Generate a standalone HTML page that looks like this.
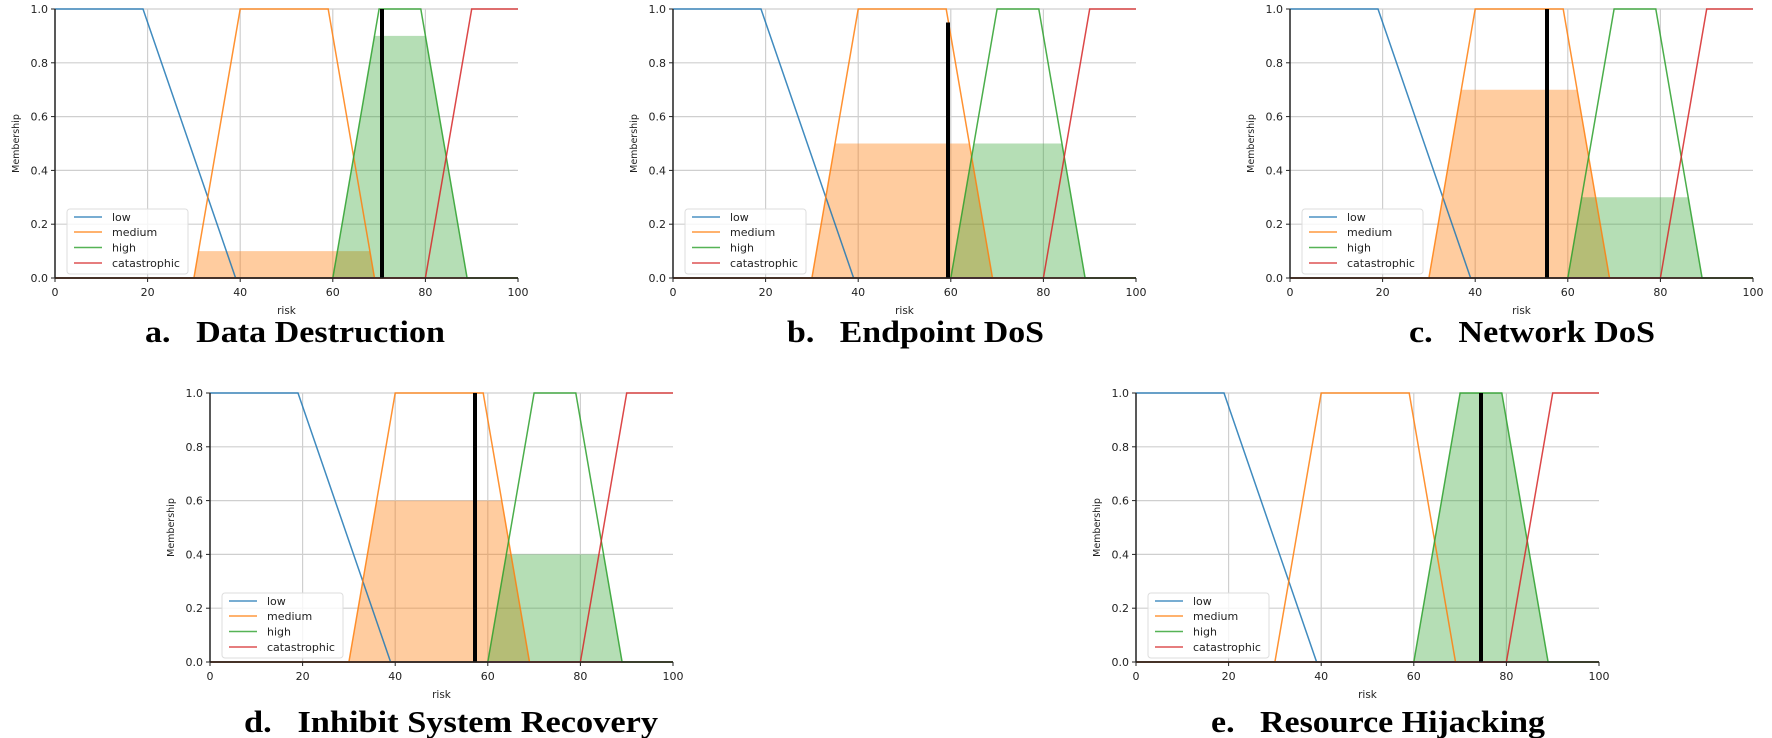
<!DOCTYPE html>
<html><head><meta charset="utf-8"><style>
html,body{margin:0;padding:0;background:#fff}
svg{display:block}
.t{font-family:"DejaVu Sans",sans-serif;font-size:11px;fill:#222}
.lg{font-family:"DejaVu Sans",sans-serif;font-size:11px;fill:#222}
.ti{font-family:"Liberation Serif",serif;font-weight:bold;font-size:31px;fill:#000;white-space:pre}
</style></head><body>
<svg width="1772" height="738" viewBox="0 0 1772 738" xmlns="http://www.w3.org/2000/svg">
<defs>
<g id="grid">
  <g stroke="#cfcfcf" stroke-width="1.2">
    <line x1="0" y1="0" x2="463" y2="0"/><line x1="0" y1="53.8" x2="463" y2="53.8"/>
    <line x1="0" y1="107.6" x2="463" y2="107.6"/><line x1="0" y1="161.4" x2="463" y2="161.4"/>
    <line x1="0" y1="215.2" x2="463" y2="215.2"/>
    <line x1="92.6" y1="0" x2="92.6" y2="269"/><line x1="185.2" y1="0" x2="185.2" y2="269"/>
    <line x1="277.8" y1="0" x2="277.8" y2="269"/><line x1="370.4" y1="0" x2="370.4" y2="269"/>
  </g>
</g>
<g id="axes">
  <line x1="0" y1="0" x2="0" y2="269" stroke="#222" stroke-width="1.5"/>
  <line x1="0" y1="269" x2="463" y2="269" stroke="#222" stroke-width="1.5"/>
  <g stroke="#222" stroke-width="1">
    <line x1="-4" y1="0" x2="0" y2="0"/><line x1="-4" y1="53.8" x2="0" y2="53.8"/><line x1="-4" y1="107.6" x2="0" y2="107.6"/>
    <line x1="-4" y1="161.4" x2="0" y2="161.4"/><line x1="-4" y1="215.2" x2="0" y2="215.2"/><line x1="-4" y1="269" x2="0" y2="269"/>
    <line x1="0" y1="269" x2="0" y2="273"/><line x1="92.6" y1="269" x2="92.6" y2="273"/><line x1="185.2" y1="269" x2="185.2" y2="273"/>
    <line x1="277.8" y1="269" x2="277.8" y2="273"/><line x1="370.4" y1="269" x2="370.4" y2="273"/><line x1="463" y1="269" x2="463" y2="273"/>
  </g>
  <g class="t" text-anchor="end">
    <text x="-7" y="4">1.0</text><text x="-7" y="57.8">0.8</text><text x="-7" y="111.6">0.6</text>
    <text x="-7" y="165.4">0.4</text><text x="-7" y="219.2">0.2</text><text x="-7" y="273">0.0</text>
  </g>
  <g class="t" text-anchor="middle">
    <text x="0" y="287">0</text><text x="92.6" y="287">20</text><text x="185.2" y="287">40</text>
    <text x="277.8" y="287">60</text><text x="370.4" y="287">80</text><text x="463" y="287">100</text>
    <text x="231.5" y="305" style="font-size:10.5px">risk</text>
  </g>
  <text class="t" style="font-size:9.5px" transform="translate(-36,134.5) rotate(-90)" text-anchor="middle">Membership</text>
</g>
<g id="curves" fill="none" stroke-width="1.5">
  <polyline points="0,269 463,269" stroke="#d62728"/>
  <polyline points="0,0 88,0 180.6,269 463,269" stroke="#1f77b4" stroke-opacity="0.85"/>
  <polyline points="0,269 138.9,269 185.2,0 273.2,0 319.5,269 463,269" stroke="#ff7f0e" stroke-opacity="0.85"/>
  <polyline points="0,269 277.8,269 324.1,0 365.8,0 412.1,269 463,269" stroke="#2ca02c" stroke-opacity="0.85"/>
  <polyline points="0,269 370.4,269 416.7,0 463,0" stroke="#d62728" stroke-opacity="0.85"/>
</g>
<g id="legend">
  <rect x="12" y="200" width="121" height="65" rx="3" fill="#fff" fill-opacity="0.8" stroke="#ddd"/>
  <line x1="19" y1="208" x2="47" y2="208" stroke="#1f77b4" stroke-width="1.5" stroke-opacity="0.8"/>
  <line x1="19" y1="223" x2="47" y2="223" stroke="#ff7f0e" stroke-width="1.5" stroke-opacity="0.8"/>
  <line x1="19" y1="238.5" x2="47" y2="238.5" stroke="#2ca02c" stroke-width="1.5" stroke-opacity="0.8"/>
  <line x1="19" y1="254" x2="47" y2="254" stroke="#d62728" stroke-width="1.5" stroke-opacity="0.8"/>
  <g class="lg"><text x="57" y="212">low</text><text x="57" y="227">medium</text><text x="57" y="242.5">high</text><text x="57" y="258">catastrophic</text></g>
</g>
</defs>

<!-- a -->
<g transform="translate(55,9)">
  <use href="#grid"/>
  <polygon points="138.9,269 143.5,242.1 314.8,242.1 319.5,269" fill="#ff7f0e" fill-opacity="0.4"/>
  <polygon points="277.8,269 319.5,26.9 370.4,26.9 412.1,269" fill="#2ca02c" fill-opacity="0.35"/>
  <use href="#curves"/>
  <line x1="327" y1="0" x2="327" y2="269" stroke="#000" stroke-width="4"/>
  <use href="#axes"/><use href="#legend"/>
</g>
<!-- b -->
<g transform="translate(673,9)">
  <use href="#grid"/>
  <polygon points="138.9,269 162.1,134.5 296.3,134.5 319.5,269" fill="#ff7f0e" fill-opacity="0.4"/>
  <polygon points="277.8,269 301,134.5 388.9,134.5 412.1,269" fill="#2ca02c" fill-opacity="0.35"/>
  <use href="#curves"/>
  <line x1="275" y1="13.5" x2="275" y2="269" stroke="#000" stroke-width="4"/>
  <use href="#axes"/><use href="#legend"/>
</g>
<!-- c -->
<g transform="translate(1290,9)">
  <use href="#grid"/>
  <polygon points="138.9,269 171.3,80.7 287.1,80.7 319.5,269" fill="#ff7f0e" fill-opacity="0.4"/>
  <polygon points="277.8,269 291.7,188.3 398.2,188.3 412.1,269" fill="#2ca02c" fill-opacity="0.35"/>
  <use href="#curves"/>
  <line x1="257" y1="0" x2="257" y2="269" stroke="#000" stroke-width="4"/>
  <use href="#axes"/><use href="#legend"/>
</g>
<!-- d -->
<g transform="translate(210,393)">
  <use href="#grid"/>
  <polygon points="138.9,269 166.7,107.6 291.7,107.6 319.5,269" fill="#ff7f0e" fill-opacity="0.4"/>
  <polygon points="277.8,269 296.3,161.4 393.6,161.4 412.1,269" fill="#2ca02c" fill-opacity="0.35"/>
  <use href="#curves"/>
  <line x1="265" y1="0" x2="265" y2="269" stroke="#000" stroke-width="4"/>
  <use href="#axes"/><use href="#legend"/>
</g>
<!-- e -->
<g transform="translate(1136,393)">
  <use href="#grid"/>
  <polygon points="277.8,269 324.1,0 365.8,0 412.1,269" fill="#2ca02c" fill-opacity="0.35"/>
  <use href="#curves"/>
  <line x1="345" y1="0" x2="345" y2="269" stroke="#000" stroke-width="4"/>
  <use href="#axes"/><use href="#legend"/>
</g>

<g class="ti">
  <text x="145" y="342" textLength="300" lengthAdjust="spacingAndGlyphs">a.&#160;&#160;&#160;Data Destruction</text>
  <text x="787" y="342" textLength="257" lengthAdjust="spacingAndGlyphs">b.&#160;&#160;&#160;Endpoint DoS</text>
  <text x="1409" y="342" textLength="246" lengthAdjust="spacingAndGlyphs">c.&#160;&#160;&#160;Network DoS</text>
  <text x="244" y="732" textLength="414" lengthAdjust="spacingAndGlyphs">d.&#160;&#160;&#160;Inhibit System Recovery</text>
  <text x="1211" y="732" textLength="334" lengthAdjust="spacingAndGlyphs">e.&#160;&#160;&#160;Resource Hijacking</text>
</g>
</svg>
</body></html>
